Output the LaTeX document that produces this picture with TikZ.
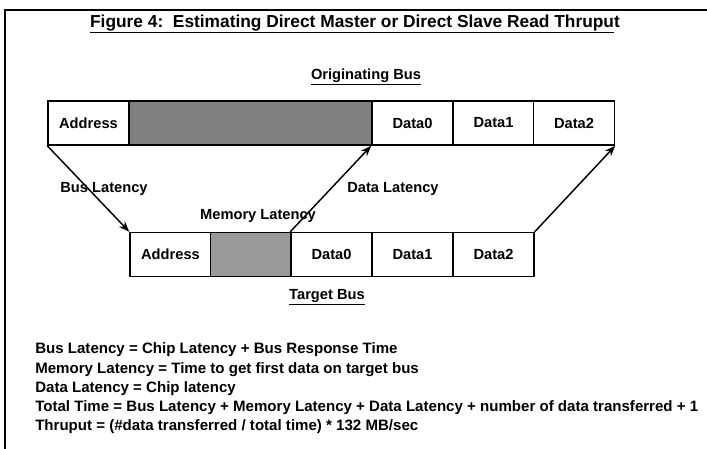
\documentclass[tikz,border=0pt]{standalone}
\usepackage{fontspec}
\setmainfont{Liberation Sans}
\usetikzlibrary{arrows.meta}

\begin{document}
\begin{tikzpicture}[x=0.75pt,y=-0.75pt,
        every node/.append style={font=\fontsize{11}{13}\selectfont\bfseries},
        cell/.style={draw, line width=1.1pt, fill=white, inner sep=0pt,
            minimum width=60.75pt, minimum height=33pt},
        busy/.style={cell, fill=black!50},
        latency/.style={-{Stealth[length=8pt,width=6pt]}, line width=1.1pt}]
    \useasboundingbox (0,0) rectangle (707,449);
    % frame
    \draw[line width=1.5pt] (707,10) -- (5,10) -- (5,449);
    \node[font=\fontsize{13}{15}\selectfont\bfseries] (title) at (355,24)
        {\underline{Figure 4:\ \ Estimating Direct Master or Direct Slave Read Thrupu}t};
    \node (origin) at (366,77) {\underline{Originating Bus}};
    % originating bus
    \node[cell] (oaddr) at (88.5,123) {Address};
    \node[busy, minimum width=182.25pt] (owait) at (250.5,123) {};
    \node[cell] (odata0) at (412.5,123) {Data0};
    \node[cell] (odata1) at (493.5,123) {Data1};
    \node[cell] (odata2) at (574,123) {Data2};
    % target bus
    \node[cell] (taddr) at (170.5,254.5) {Address};
    \node[cell, fill=black!40] (twait) at (251,254.5) {};
    \node[cell] (tdata0) at (331.5,254.5) {Data0};
    \node[cell] (tdata1) at (412.5,254.5) {Data1};
    \node[cell] (tdata2) at (493.5,254.5) {Data2};
    \node (target) at (327,297) {\underline{Target Bus}};
    % latencies
    \node (buslat) at (104,189) {Bus Latency};
    \node (memlat) at (258,216) {Memory Latency};
    \node (datalat) at (393,189) {Data Latency};
    \draw[latency] (oaddr.south west) -- (taddr.north west);
    \draw[latency] (tdata0.north west) -- (odata0.south west);
    \draw[latency] (tdata2.north east) -- (odata2.south east);
    % formulas
    \begin{scope}[every node/.append style={anchor=west, inner sep=0pt,
            font=\fontsize{11.3}{13}\selectfont\bfseries}]
        \node (eqbus) at (35,350) {Bus Latency = Chip Latency + Bus Response Time};
        \node (eqmem) at (35,370) {Memory Latency = Time to get first data on target bus};
        \node (eqdata) at (35,389) {Data Latency = Chip latency};
        \node (eqtotal) at (35,408) {Total Time = Bus Latency + Memory Latency + Data Latency + number of data transferred + 1};
        \node (eqthru) at (35,427) {Thruput = (\#data transferred / total time) * 132 MB/sec};
    \end{scope}
\end{tikzpicture}
\end{document}
